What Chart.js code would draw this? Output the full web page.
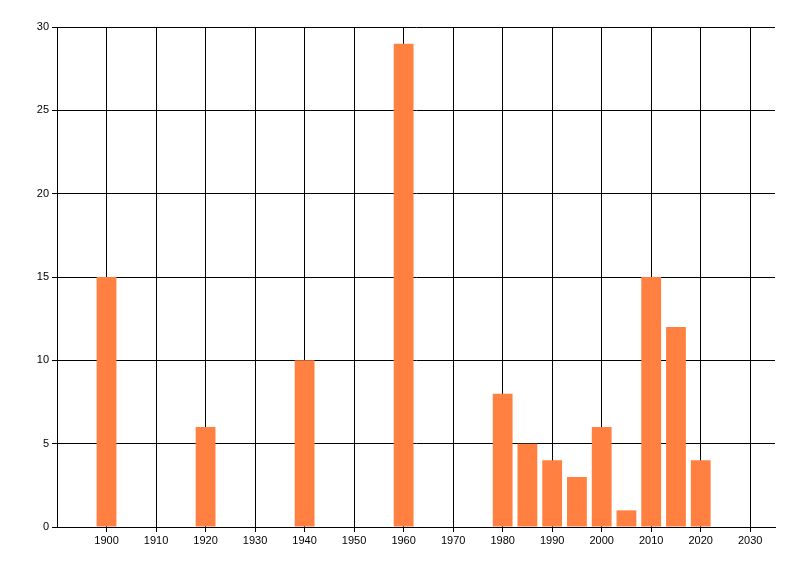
<!DOCTYPE html>
<html>
<head>
<meta charset="utf-8">
<script src="https://cdn.jsdelivr.net/npm/chart.js@4"></script>
<style>
  html, body { margin: 0; padding: 0; background: #fff; }
  #wrap { width: 800px; height: 576px; }
</style>
</head>
<body>
<div id="wrap"><canvas id="chart"></canvas></div>
<script>
// data
const years = [1900, 1920, 1940, 1960, 1980, 1985, 1990, 1995, 2000, 2005, 2010, 2015, 2020];
const counts = [15, 6, 10, 29, 8, 5, 4, 3, 6, 1, 15, 12, 4];
const xTicks = [1900, 1910, 1920, 1930, 1940, 1950, 1960, 1970, 1980, 1990, 2000, 2010, 2020, 2030];
const yTicks = [0, 5, 10, 15, 20, 25, 30];

const tickFont = { family: '"Liberation Sans", Arial, sans-serif', size: 11 };

new Chart(document.getElementById('chart'), {
    type: 'bar',
    data: {
        datasets: [{
            data: years.map((y, i) => ({ x: y, y: counts[i] })),
            backgroundColor: '#ff8040',
            borderWidth: 0,
            barPercentage: 0.8,
            categoryPercentage: 1.0
        }]
    },
    options: {
        responsive: true,
        maintainAspectRatio: false,
        animation: false,
        layout: { padding: { top: 27, right: 25, left: 0, bottom: 0 } },
        plugins: { legend: { display: false }, tooltip: { enabled: false } },
        scales: {
            x: {
                type: 'linear',
                min: 1890,
                max: 2035,
                offset: false,
                afterBuildTicks: s => { s.ticks = xTicks.map(v => ({ value: v })); },
                afterFit: s => { s.height = 49; },
                grid: { color: '#000', lineWidth: 1, tickLength: 5, offset: false },
                border: { color: '#000', width: 1 },
                ticks: { color: '#000', font: tickFont, padding: 2, maxRotation: 0, callback: v => String(v) }
            },
            y: {
                min: 0,
                max: 30,
                afterBuildTicks: s => { s.ticks = yTicks.map(v => ({ value: v })); },
                afterFit: s => { s.width = 57; },
                grid: { color: '#000', lineWidth: 1, tickLength: 5 },
                border: { color: '#000', width: 1 },
                ticks: { color: '#000', font: tickFont, padding: 3 }
            }
        }
    }
});
</script>
</body>
</html>
